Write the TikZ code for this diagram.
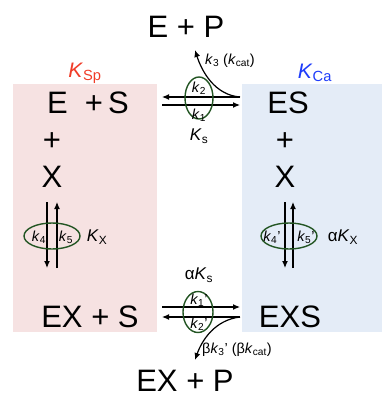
\documentclass[tikz,border=0pt]{standalone}
\usepackage{fontspec}
\setmainfont{Liberation Sans}
\usetikzlibrary{arrows.meta, shapes.geometric}
\definecolor{pinkbg}{RGB}{246,226,226}
\definecolor{bluebg}{RGB}{228,236,247}
\definecolor{ringgreen}{RGB}{35,85,35}
\definecolor{kred}{RGB}{240,60,40}
\definecolor{kblue}{RGB}{30,60,250}
\newcommand{\kr}[1]{\textit{k}\textsubscript{#1}}
\newcommand{\Kc}[1]{\textit{K}\textsubscript{#1}}
\tikzset{
    species/.style={font=\fontsize{31}{32}\selectfont, inner sep=0pt},
    rate/.style={font=\fontsize{14.5}{15}\selectfont, inner sep=0pt},
    const/.style={font=\fontsize{17}{18}\selectfont, inner sep=0pt},
    ring/.style={ellipse, draw=ringgreen, line width=1.4pt, inner sep=0pt},
    arrow/.style={line width=1.2pt, -{Latex[length=7pt,width=6pt]}}
}

\begin{document}
\begin{tikzpicture}[x=1pt, y=-1pt]
    \useasboundingbox (0,0) rectangle (382,397);
    % background boxes
    \fill[pinkbg] (13,84) rectangle (157,332);
    \fill[bluebg] (242,84) rectangle (382,332);
    \node (ksp) [const, text=kred, font=\fontsize{21}{22}\selectfont] at (85,73) {\Kc{Sp}};
    \node (kca) [const, text=kblue, font=\fontsize{21}{22}\selectfont] at (315,73) {\Kc{Ca}};

    % species
    \node (ep) [species] at (186,27) {E + P};
    \node (es1) [species] at (88,103) {E\hspace{0.55em}+\,S};
    \node (es2) [species] at (288,103) {ES};
    \node (pl1) [species] at (52,142) {+};
    \node (pl2) [species] at (285,142) {+};
    \node (x1) [species] at (52,177) {X};
    \node (x2) [species] at (285,177) {X};
    \node (exs1) [species] at (90,317) {EX + S};
    \node (exs2) [species] at (290,317) {EXS};
    \node (exp) [species] at (185,381) {EX + P};

    % top equilibrium
    \coordinate (t1) at (162,97);
    \coordinate (t2) at (240,97);
    \coordinate (t3) at (162,105);
    \coordinate (t4) at (240,105);
    \draw [arrow] (t2) -- (t1);
    \draw [arrow] (t3) -- (t4);
    \node (ring1) [ring, minimum width=28pt, minimum height=42pt] at (199,98) {};
    \node (k2) [rate] at (199,88) {\kr{2}};
    \node (k1) [rate] at (199,115) {\kr{1}};
    \node (ks) [const] at (199,136) {\Kc{s}};
    \coordinate (p1) at (195,50);
    \draw [arrow] (t2) .. controls (215,95) and (202,72) .. (p1);
    \node (k3) [rate, anchor=west] at (205,61) {\kr{3} (\textit{k}\textsubscript{cat})};

    % left vertical equilibrium
    \coordinate (l1) at (47,202);
    \coordinate (l2) at (47,268);
    \coordinate (l3) at (57,268);
    \coordinate (l4) at (57,202);
    \draw [arrow] (l1) -- (l2);
    \draw [arrow] (l3) -- (l4);
    \node (ring2) [ring, minimum width=56pt, minimum height=26pt] at (52,236) {};
    \node (k4) [rate] at (39,237) {\kr{4}};
    \node (k5) [rate] at (66,237) {\kr{5}};
    \node (kx) [const] at (97,237) {\Kc{X}};

    % right vertical equilibrium
    \coordinate (r1) at (285,202);
    \coordinate (r2) at (285,268);
    \coordinate (r3) at (293,268);
    \coordinate (r4) at (293,202);
    \draw [arrow] (r1) -- (r2);
    \draw [arrow] (r3) -- (r4);
    \node (ring3) [ring, minimum width=56pt, minimum height=26pt] at (289,236) {};
    \node (k4p) [rate] at (272,237) {\kr{4}'};
    \node (k5p) [rate] at (306,237) {\kr{5}'};
    \node (akx) [const] at (343,237) {α\Kc{X}};

    % bottom equilibrium
    \coordinate (b1) at (162,307);
    \coordinate (b2) at (240,307);
    \coordinate (b3) at (240,317);
    \coordinate (b4) at (162,317);
    \draw [arrow] (b1) -- (b2);
    \draw [arrow] (b3) -- (b4);
    \node (ring4) [ring, minimum width=30pt, minimum height=41pt] at (198,312) {};
    \node (k1p) [rate] at (199,300) {\kr{1}'};
    \node (k2p) [rate] at (199,324) {\kr{2}'};
    \node (aks) [const] at (199,275) {α\Kc{s}};
    \coordinate (p2) at (195,360);
    \draw [arrow] (b3) .. controls (215,320) and (202,340) .. (p2);
    \node (bk3) [rate, anchor=west] at (202,350) {β\kr{3}' (β\textit{k}\textsubscript{cat})};
\end{tikzpicture}
\end{document}
